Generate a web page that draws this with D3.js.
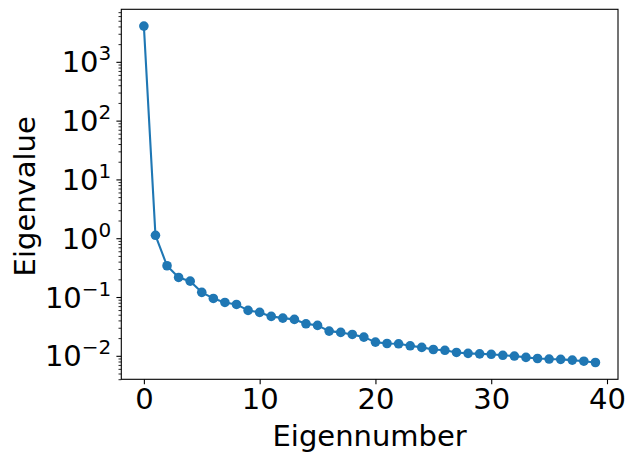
<!DOCTYPE html>
<html>
<head>
<meta charset="utf-8">
<script src="https://cdn.jsdelivr.net/npm/d3@7"></script>
<style>
  body { margin: 0; background: #fff; }
  svg { display: block; font-family: "DejaVu Sans", sans-serif; }
</style>
</head>
<body>
<div id="chart"></div>
<script>
// eigenvalue spectrum
const eigenNumbers = d3.range(40);
const eigenValues = [
  4050, 1.12, 0.34, 0.215, 0.186, 0.120, 0.0946, 0.0809, 0.0748, 0.0592,
  0.0547, 0.0468, 0.0438, 0.0416, 0.0350, 0.0329, 0.0263, 0.0250, 0.0231, 0.0208,
  0.0171, 0.0162, 0.0160, 0.0148, 0.0139, 0.0128, 0.0124, 0.0114, 0.0110, 0.0108,
  0.0106, 0.0102, 0.0099, 0.0094, 0.0090, 0.0088, 0.0087, 0.00845, 0.0081, 0.0077
];
const xTicks = [0, 10, 20, 30, 40];
const yExponents = [-2, -1, 0, 1, 2, 3];

const width = 634, height = 460;
const margin = { left: 121.3, right: 16, top: 9.3, bottom: 80.7 };
const color = '#1f77b4';
const fontSize = 29;

const svg = d3.select('#chart').append('svg')
  .attr('width', width)
  .attr('height', height);

// matplotlib style 5% margins (log space for y)
const xExt = d3.extent(eigenNumbers);
const xPad = (xExt[1] - xExt[0]) * 0.05;
const x = d3.scaleLinear()
  .domain([xExt[0] - xPad, xExt[1] + xPad])
  .range([margin.left, width - margin.right]);

const lExt = d3.extent(eigenValues, d => Math.log10(d));
const lPad = (lExt[1] - lExt[0]) * 0.05;
const y = d3.scaleLog()
  .domain([Math.pow(10, lExt[0] - lPad), Math.pow(10, lExt[1] + lPad)])
  .range([height - margin.bottom, margin.top]);

const plotBottom = height - margin.bottom;

// minor ticks on the log axis
const minorVals = [];
for (let k = -3; k <= 4; k++) {
  for (let m = 2; m <= 9; m++) {
    const v = m * Math.pow(10, k);
    if (v >= y.domain()[0] && v <= y.domain()[1]) minorVals.push(v);
  }
}

// x axis
const xAxis = svg.append('g')
  .attr('transform', `translate(0,${plotBottom})`)
  .call(d3.axisBottom(x).tickValues(xTicks).tickSize(4.9).tickPadding(4).tickFormat(d3.format('d')));
xAxis.select('.domain').remove();
xAxis.selectAll('line').attr('stroke', '#000').attr('stroke-width', 1.1);
xAxis.selectAll('text')
  .attr('fill', '#000')
  .style('font-size', fontSize + 'px')
  .style('font-family', '"DejaVu Sans", sans-serif');

// y axis major ticks
const yMajor = yExponents.map(e => Math.pow(10, e));
const yAxis = svg.append('g')
  .attr('transform', `translate(${margin.left},0)`)
  .call(d3.axisLeft(y).tickValues(yMajor).tickSize(4.9).tickFormat(''));
yAxis.select('.domain').remove();
yAxis.selectAll('line').attr('stroke', '#000').attr('stroke-width', 1.1);

// y axis minor ticks
const yMinor = svg.append('g')
  .attr('transform', `translate(${margin.left},0)`)
  .call(d3.axisLeft(y).tickValues(minorVals).tickSize(2.8).tickFormat(''));
yMinor.select('.domain').remove();
yMinor.selectAll('line').attr('stroke', '#000').attr('stroke-width', 0.85);

// y tick labels, 10 with superscript exponent
const yLabels = svg.append('g');
yExponents.forEach(e => {
  const t = yLabels.append('text')
    .attr('x', margin.left - 10)
    .attr('y', y(Math.pow(10, e)) + 10.5)
    .attr('text-anchor', 'end')
    .style('font-size', fontSize + 'px')
    .attr('fill', '#000');
  t.append('tspan').text('10');
  t.append('tspan')
    .attr('dy', -12)
    .style('font-size', '20px')
    .text(e < 0 ? '\u2212' + Math.abs(e) : String(e));
});

// data line and markers
const line = d3.line()
  .x((d, i) => x(eigenNumbers[i]))
  .y(d => y(d));

svg.append('path')
  .datum(eigenValues)
  .attr('d', line)
  .attr('fill', 'none')
  .attr('stroke', color)
  .attr('stroke-width', 2.1)
  .attr('stroke-linejoin', 'round');

svg.append('g')
  .selectAll('circle')
  .data(eigenValues)
  .enter().append('circle')
  .attr('cx', (d, i) => x(eigenNumbers[i]))
  .attr('cy', d => y(d))
  .attr('r', 4.8)
  .attr('fill', color);

// frame
svg.append('rect')
  .attr('x', margin.left)
  .attr('y', margin.top)
  .attr('width', width - margin.right - margin.left)
  .attr('height', plotBottom - margin.top)
  .attr('fill', 'none')
  .attr('stroke', '#000')
  .attr('stroke-width', 1.1);

// axis titles
svg.append('text')
  .attr('x', (margin.left + width - margin.right) / 2)
  .attr('y', 446)
  .attr('text-anchor', 'middle')
  .style('font-size', fontSize + 'px')
  .attr('fill', '#000')
  .text('Eigennumber');

svg.append('text')
  .attr('transform', `translate(35,${(margin.top + plotBottom) / 2 + 2}) rotate(-90)`)
  .attr('text-anchor', 'middle')
  .style('font-size', fontSize + 'px')
  .attr('fill', '#000')
  .text('Eigenvalue');
</script>
</body>
</html>
